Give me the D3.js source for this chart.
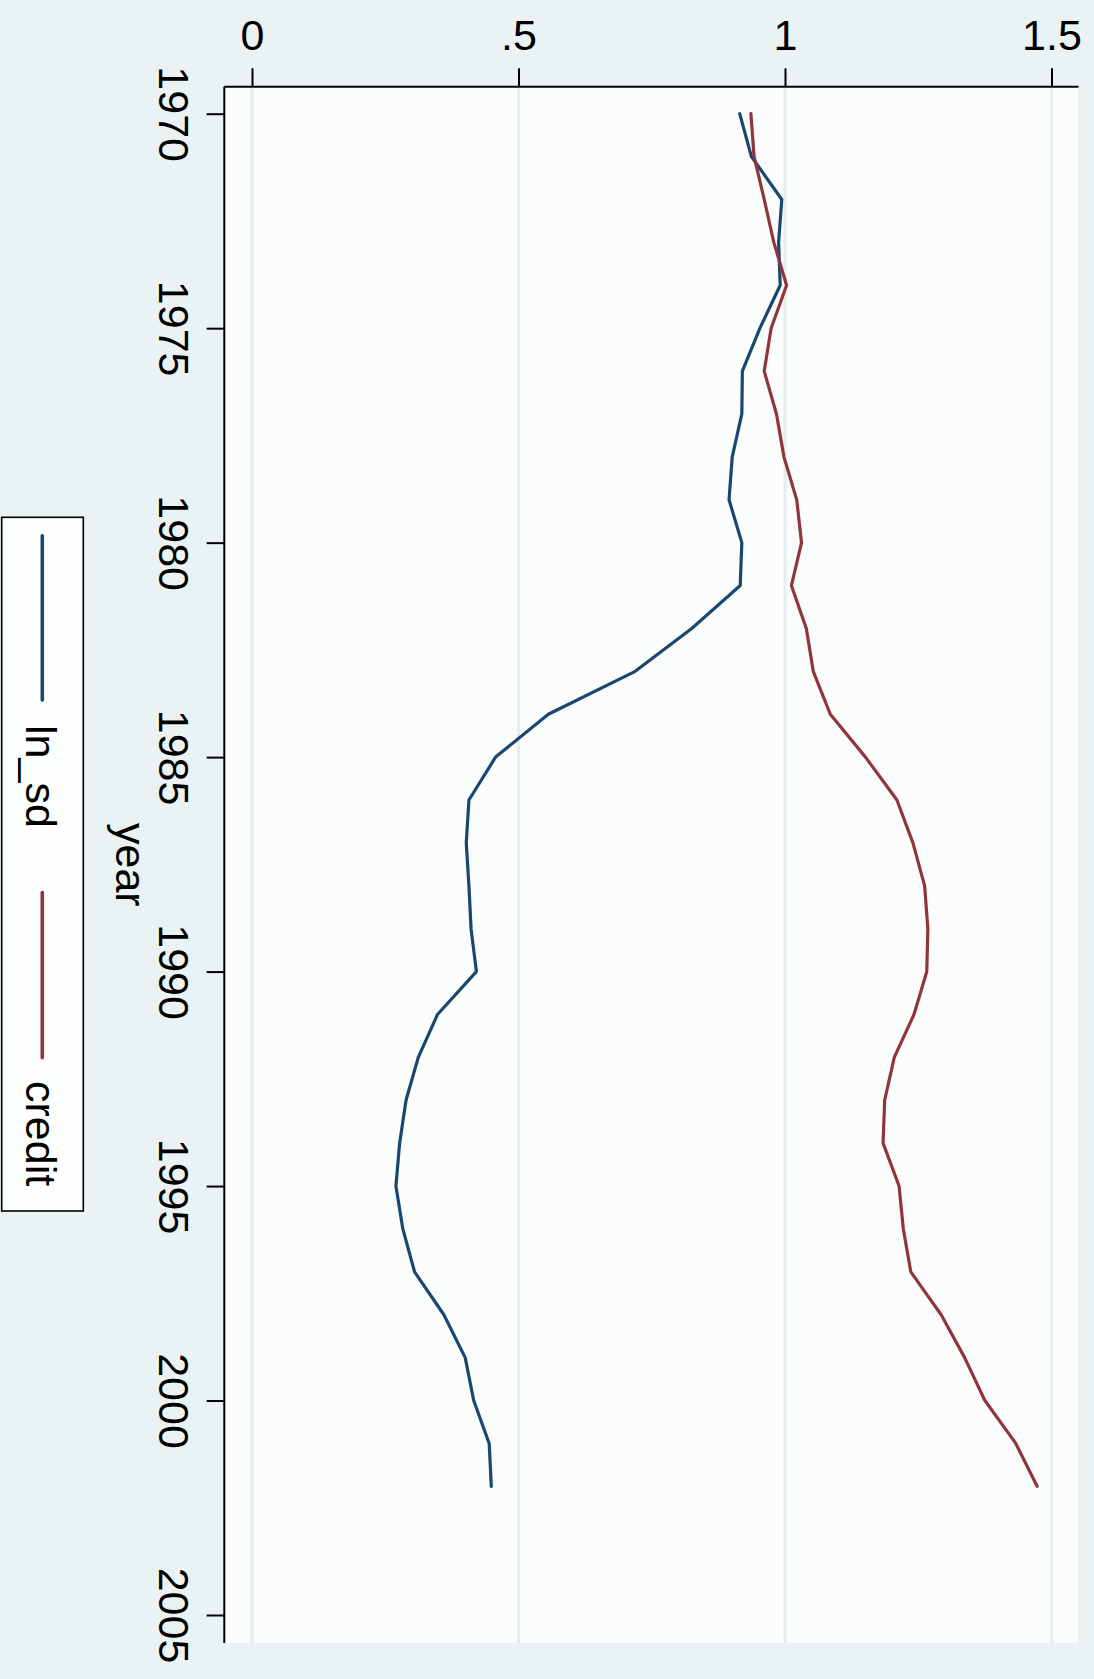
<!DOCTYPE html>
<html>
<head>
<meta charset="utf-8">
<script src="https://cdn.jsdelivr.net/npm/d3@7"></script>
<style>
  html, body { margin: 0; padding: 0; background: #eaf2f3; }
  svg { display: block; }
  text { font-family: "Liberation Sans", Arial, Helvetica, sans-serif; fill: #000; }
</style>
</head>
<body>
<svg id="chart" width="1094" height="1679"></svg>
<script>
// Yearly series, 1970–2002
const years = d3.range(1970, 2003);
const lnSd = [0.915, 0.937, 0.994, 0.988, 0.991, 0.953, 0.920, 0.919, 0.901, 0.895, 0.919, 0.916,
              0.825, 0.719, 0.556, 0.457, 0.407, 0.402, 0.407, 0.411, 0.421,
              0.348, 0.312, 0.289, 0.277, 0.270, 0.283, 0.305, 0.360, 0.400, 0.416, 0.445, 0.449];
const credit = [0.936, 0.942, 0.961, 0.979, 1.003, 0.974, 0.961, 0.984, 0.998, 1.022, 1.031, 1.012,
                1.040, 1.053, 1.085, 1.151, 1.210, 1.240, 1.262, 1.268, 1.266,
                1.242, 1.205, 1.187, 1.184, 1.214, 1.222, 1.236, 1.293, 1.337, 1.375, 1.433, 1.473];

const valueTicks = [0, 0.5, 1, 1.5];
const valueTickLabels = ["0", ".5", "1", "1.5"];
const yearTicks = [1970, 1975, 1980, 1985, 1990, 1995, 2000, 2005];

const seriesNames = ["ln_sd", "credit"];
const seriesColors = ["#1a476f", "#90353b"];

const svg = d3.select("#chart");
const FONT = 43;

// plot region (graph is laid out sideways: values run left→right, years top→bottom)
const plot = { left: 224.3, right: 1078.5, top: 86.7, bottom: 1643 };

const x = d3.scaleLinear().domain([0, 1.5]).range([252, 1051.5]);
const y = d3.scaleLinear().domain([1970, 2005]).range([113.7, 1615]);

// background
svg.append("rect").attr("width", 1094).attr("height", 1679).attr("fill", "#eaf2f3");
svg.append("rect")
  .attr("x", plot.left).attr("y", plot.top)
  .attr("width", plot.right - plot.left).attr("height", plot.bottom - plot.top)
  .attr("fill", "#fbfdfd");

// grid lines
svg.append("g").selectAll("line").data(valueTicks).join("line")
  .attr("x1", d => x(d)).attr("x2", d => x(d))
  .attr("y1", plot.top).attr("y2", plot.bottom)
  .attr("stroke", "#e4edef").attr("stroke-width", 3.2);

// series lines
const series = [lnSd, credit];
const line = d3.line().x(d => x(d[1])).y(d => y(d[0]));
series.forEach((vals, i) => {
  svg.append("path")
    .datum(years.map((yr, k) => [yr, vals[k]]))
    .attr("d", line)
    .attr("fill", "none")
    .attr("stroke", seriesColors[i])
    .attr("stroke-width", 3.2)
    .attr("stroke-linejoin", "round")
    .attr("stroke-linecap", "round");
});

// value axis along the top
const topAxis = svg.append("g")
  .attr("transform", `translate(0,${plot.top})`)
  .call(d3.axisTop(x).tickValues(valueTicks)
    .tickFormat((d, i) => valueTickLabels[i])
    .tickSize(18.4).tickPadding(18.3).tickSizeOuter(0));
topAxis.select(".domain").remove();
topAxis.selectAll(".tick line").attr("stroke", "#000").attr("stroke-width", 2);
topAxis.selectAll(".tick text")
  .attr("font-size", FONT).attr("dy", "0").attr("text-anchor", "middle");
svg.append("line")
  .attr("x1", plot.left).attr("x2", plot.right)
  .attr("y1", plot.top).attr("y2", plot.top)
  .attr("stroke", "#000").attr("stroke-width", 2);

// year axis along the left, labels turned a quarter clockwise
const leftAxis = svg.append("g")
  .attr("transform", `translate(${plot.left},0)`)
  .call(d3.axisLeft(y).tickValues(yearTicks).tickFormat(d3.format("d"))
    .tickSize(17.6).tickSizeOuter(0));
leftAxis.select(".domain").remove();
leftAxis.selectAll(".tick line").attr("stroke", "#000").attr("stroke-width", 2);
leftAxis.selectAll(".tick text")
  .attr("x", 0).attr("y", 0).attr("dy", "0")
  .attr("text-anchor", "middle")
  .attr("font-size", FONT)
  .attr("transform", "translate(-65,0) rotate(90)");
svg.append("line")
  .attr("x1", plot.left).attr("x2", plot.left)
  .attr("y1", plot.top).attr("y2", plot.bottom)
  .attr("stroke", "#000").attr("stroke-width", 2);

// axis title
svg.append("text")
  .attr("transform", `translate(116,${(plot.top + plot.bottom) / 2}) rotate(90)`)
  .attr("text-anchor", "middle")
  .attr("font-size", FONT)
  .text("year");

// legend
const legend = svg.append("g");
legend.append("rect")
  .attr("x", 1.7).attr("y", 517.3).attr("width", 81.6).attr("height", 693.7)
  .attr("fill", "#fdfefe").attr("stroke", "#000").attr("stroke-width", 1.6);
const legendItems = [
  { y1: 535.7, y2: 700, ty: 725 },
  { y1: 892.6, y2: 1057.8, ty: 1081 }
];
legendItems.forEach((it, i) => {
  legend.append("line")
    .attr("x1", 42.3).attr("x2", 42.3).attr("y1", it.y1).attr("y2", it.y2)
    .attr("stroke", seriesColors[i]).attr("stroke-width", 3.6)
    .attr("stroke-linecap", "round");
  legend.append("text")
    .attr("transform", `translate(26,${it.ty}) rotate(90)`)
    .attr("text-anchor", "start")
    .attr("font-size", FONT)
    .text(seriesNames[i]);
});
</script>
</body>
</html>
